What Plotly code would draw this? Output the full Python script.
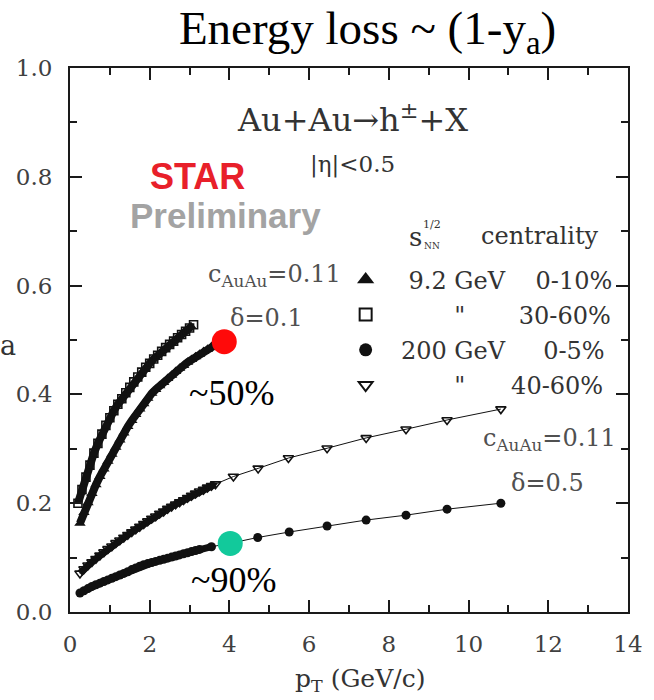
import plotly.graph_objects as go

# ---------------- data ----------------
# 9.2 GeV, 30-60 % (open squares)
sq_x = [0.2, 0.3, 0.4, 0.5, 0.6, 0.7, 0.8, 0.9, 1.0, 1.1, 1.2, 1.3, 1.4, 1.5, 1.6,
        1.7, 1.8, 1.9, 2.0, 2.1, 2.2, 2.3, 2.4, 2.5, 2.6, 2.7, 2.8, 2.9, 3.0, 3.1]
sq_y = [0.200, 0.225, 0.248, 0.270, 0.292, 0.310, 0.327, 0.343, 0.357, 0.370, 0.382,
        0.392, 0.403, 0.413, 0.423, 0.432, 0.441, 0.450, 0.457, 0.465, 0.472, 0.479,
        0.486, 0.492, 0.498, 0.504, 0.510, 0.516, 0.522, 0.528]

# 9.2 GeV, 0-10 % (filled triangles)
tu_x = [0.25, 0.35, 0.45, 0.55, 0.65, 0.75, 0.85, 0.95, 1.05, 1.15, 1.25, 1.35, 1.45,
        1.55, 1.65, 1.75, 1.85, 1.95, 2.05, 2.15, 2.25, 2.35, 2.45, 2.55, 2.65, 2.75,
        2.85, 2.95, 3.05, 3.15, 3.25, 3.35, 3.45, 3.55, 3.65, 3.75]
tu_y = [0.163, 0.183, 0.201, 0.218, 0.234, 0.249, 0.263, 0.277, 0.290, 0.303, 0.316,
        0.329, 0.341, 0.352, 0.363, 0.373, 0.383, 0.393, 0.402, 0.409, 0.416, 0.422,
        0.429, 0.435, 0.442, 0.448, 0.453, 0.459, 0.464, 0.469, 0.474, 0.479, 0.483,
        0.488, 0.491, 0.494]

# 200 GeV, 40-60 % (open down triangles)
td_x = [0.25, 0.35, 0.45, 0.55, 0.65, 0.75, 0.85, 0.95, 1.05, 1.15, 1.25, 1.35, 1.45,
        1.55, 1.65, 1.75, 1.85, 1.95, 2.05, 2.15, 2.25, 2.35, 2.45, 2.55, 2.65, 2.75,
        2.85, 2.95, 3.05, 3.15, 3.25, 3.35, 3.45, 3.55, 3.65,
        4.10, 4.72, 5.48, 6.45, 7.43, 8.43, 9.46, 10.81]
td_y = [0.071, 0.079, 0.086, 0.092, 0.098, 0.104, 0.110, 0.116, 0.121, 0.127, 0.132,
        0.137, 0.142, 0.147, 0.152, 0.157, 0.162, 0.167, 0.172, 0.176, 0.181, 0.185,
        0.190, 0.194, 0.198, 0.202, 0.206, 0.210, 0.214, 0.218, 0.222, 0.225, 0.229,
        0.232, 0.235,
        0.249, 0.264, 0.283, 0.301, 0.320, 0.336, 0.353, 0.373]

# 200 GeV, 0-5 % (filled circles)
ci_x = [0.25, 0.35, 0.45, 0.55, 0.65, 0.75, 0.85, 0.95, 1.05, 1.15, 1.25, 1.35, 1.45,
        1.55, 1.65, 1.75, 1.85, 1.95, 2.05, 2.15, 2.25, 2.35, 2.45, 2.55, 2.65, 2.75,
        2.85, 2.95, 3.05, 3.15, 3.25,
        3.55, 4.00, 4.71, 5.50, 6.45, 7.43, 8.43, 9.46, 10.81]
ci_y = [0.035, 0.039, 0.043, 0.047, 0.050, 0.053, 0.056, 0.059, 0.062, 0.065, 0.068,
        0.071, 0.074, 0.078, 0.081, 0.084, 0.087, 0.089, 0.091, 0.093, 0.095, 0.097,
        0.099, 0.101, 0.103, 0.105, 0.107, 0.109, 0.111, 0.113, 0.115,
        0.120, 0.126, 0.137, 0.147, 0.158, 0.169, 0.178, 0.189, 0.200]

# highlighted points
hl_x = [3.87, 4.02]
hl_y = [0.497, 0.126]
hl_color = ["#ff0a0a", "#12c99b"]

NB = "\u00a0"
legend_names = [NB * 3 + "9.2 GeV" + NB * 4 + "0-10%",
                NB * 9 + "\"" + NB * 7 + "30-60%",
                NB * 2 + "200 GeV" + NB * 5 + "0-5%",
                NB * 9 + "\"" + NB * 6 + "40-60%"]

x_ticks = [0, 2, 4, 6, 8, 10, 12, 14]
y_ticks = [0.0, 0.2, 0.4, 0.6, 0.8, 1.0]

DENSE_LIMIT = 3.7   # pT below which the calculated points are densely packed

SERIF = "DejaVu Serif"
TIMES = "Liberation Serif"
INK = "#111111"

fig = go.Figure()


def dense(xs, ys):
    pairs = [(a, b) for a, b in zip(xs, ys) if a <= DENSE_LIMIT]
    return [p[0] for p in pairs], [p[1] for p in pairs]


series = [
    (sq_x, sq_y, 8, dict(symbol="square-open", size=8, color=INK, line=dict(width=1.6, color=INK))),
    (tu_x, tu_y, 8, dict(symbol="triangle-up", size=10, color=INK)),
    (td_x, td_y, 7, dict(symbol="triangle-down-open", size=9, color=INK, line=dict(width=1.6, color=INK))),
    (ci_x, ci_y, 7, dict(symbol="circle", size=9, color=INK)),
]
for xs, ys, band, mk in series:
    dx, dy = dense(xs, ys)
    # thick band where points are densely packed
    fig.add_trace(go.Scatter(x=dx, y=dy, mode="lines", line=dict(color=INK, width=band),
                             showlegend=False, hoverinfo="skip"))
    fig.add_trace(go.Scatter(x=xs, y=ys, mode="lines+markers", line=dict(color=INK, width=1),
                             marker=mk, showlegend=False))

fig.add_trace(go.Scatter(x=hl_x, y=hl_y, mode="markers",
                         marker=dict(symbol="circle", size=25, color=hl_color),
                         showlegend=False))

# legend-only entries
leg_markers = [dict(symbol="triangle-up", size=15, color=INK),
               dict(symbol="square-open", size=12, color=INK, line=dict(width=2, color=INK)),
               dict(symbol="circle", size=13, color=INK),
               dict(symbol="triangle-down-open", size=12, color=INK, line=dict(width=2, color=INK))]
for i, (nm, mk) in enumerate(zip(legend_names, leg_markers)):
    fig.add_trace(go.Scatter(x=[None], y=[None], mode="markers", marker=mk, name=nm,
                             legendgroup=f"g{i}", showlegend=True))


def ann(x, y, text, size, color="#333333", family=SERIF, **kw):
    fig.add_annotation(x=x, y=y, xref="x", yref="y", text=text, showarrow=False,
                       font=dict(size=size, color=color, family=family),
                       xanchor="center", yanchor="middle", **kw)


ann(7.10, 0.908, "Au+Au\u2192h<sup>\u00b1</sup>+X", 32)
ann(7.10, 0.822, "|\u03b7|<0.5", 23)
ann(3.21, 0.801, "<b>STAR</b>", 36, color="#e8202a", family="Liberation Sans")
ann(3.89, 0.728, "<b>Preliminary</b>", 35, color="#a3a3a3", family="Liberation Sans")
ann(5.12, 0.618, "c<sub>AuAu</sub>=0.11", 24, color="#505050")
ann(4.94, 0.540, "\u03b4=0.1", 24, color="#505050")
ann(4.06, 0.403, "~50%", 36, color="#000000", family=TIMES)
ann(4.09, 0.059, "~90%", 36, color="#000000", family=TIMES)
ann(12.02, 0.318, "c<sub>AuAu</sub>=0.11", 24, color="#505050")
ann(11.99, 0.237, "\u03b4=0.5", 24, color="#505050")
ann(8.66, 0.690, "s", 26)
ann(9.08, 0.712, "1/2", 11)
ann(9.08, 0.672, "NN", 9)
ann(11.79, 0.691, "centrality", 24)

# axis titles
fig.add_annotation(x=0.52, y=-0.125, xref="paper", yref="paper",
                   text="p<sub>T</sub> (GeV/c)", showarrow=False,
                   font=dict(size=25, color="#333333", family=SERIF),
                   xanchor="center", yanchor="middle")
fig.add_annotation(x=-0.111, y=0.49, xref="paper", yref="paper", text="a",
                   showarrow=False, font=dict(size=27, color="#333333", family=SERIF),
                   xanchor="center", yanchor="middle")

fig.update_layout(
    width=654, height=700,
    margin=dict(l=70, r=26, t=68, b=88, autoexpand=False),
    paper_bgcolor="white", plot_bgcolor="white",
    title=dict(text="Energy loss ~ (1-y<sub>a</sub>)", x=0.562, xanchor="center",
               y=0.96, yanchor="middle", yref="container",
               font=dict(size=47, color="#000000", family=TIMES)),
    legend=dict(x=0.494, y=0.652, xanchor="left", yanchor="top",
                bgcolor="rgba(0,0,0,0)", tracegroupgap=1,
                font=dict(size=24, color="#333333", family=SERIF)),
    showlegend=True,
)

axis_common = dict(showline=True, linecolor="#1a1a1a", linewidth=2, mirror="ticks",
                   ticks="inside", tickcolor="#1a1a1a", tickwidth=1.5, ticklen=12,
                   showgrid=False, zeroline=False, automargin=False,
                   tickfont=dict(size=23, color="#404040", family=SERIF))

fig.update_xaxes(range=[0, 14], tickvals=x_ticks, ticktext=[str(v) for v in x_ticks],
                 ticklabelstandoff=10,
                 minor=dict(ticks="inside", dtick=1, ticklen=7, tickcolor="#1a1a1a",
                            tickwidth=1.5, showgrid=False),
                 **axis_common)
fig.update_yaxes(range=[0, 1], tickvals=y_ticks, ticktext=[f"{v:.1f}" for v in y_ticks],
                 ticklabelstandoff=11,
                 minor=dict(ticks="inside", dtick=0.1, ticklen=7, tickcolor="#1a1a1a",
                            tickwidth=1.5, showgrid=False),
                 **axis_common)

fig.write_html("out.html")
